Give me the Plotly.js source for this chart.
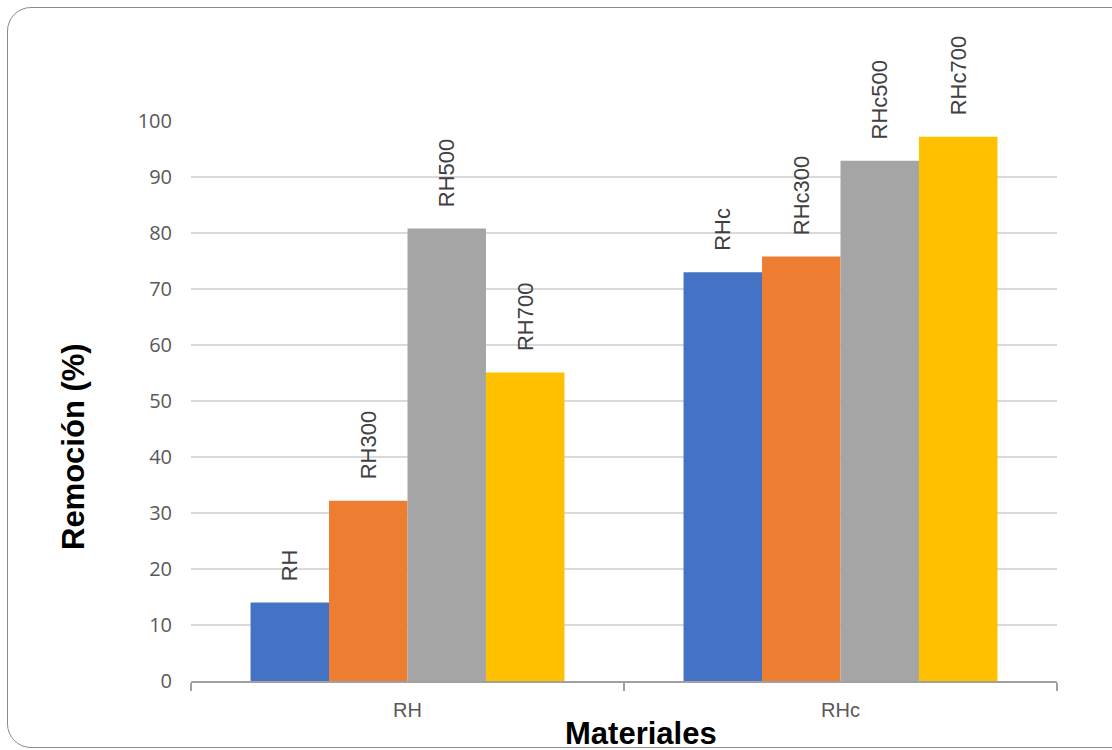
<!DOCTYPE html>
<html>
<head>
<meta charset="utf-8">
<script src="https://cdn.plot.ly/plotly-3.0.1.min.js"></script>
<style>
  html, body { margin: 0; padding: 0; background: #ffffff; overflow: hidden; }
  #frame {
    position: absolute; left: 7px; top: 7px; width: 1130px; height: 741px;
    border: 1.5px solid #8c8c8c; border-radius: 24px; box-sizing: border-box;
  }
  #chart { position: absolute; left: 0; top: 0; width: 1112px; height: 750px; }
</style>
</head>
<body>
<div id="frame"></div>
<div id="chart"></div>
<script>
// Materials (category axis)
const materials = ['RH', 'RHc'];

// Removal percentage for each thermal treatment
const seriesNames = ['Sin tratamiento', '300 °C', '500 °C', '700 °C'];
const removalBase = [14.0, 73.0];
const removal300 = [32.2, 75.8];
const removal500 = [80.8, 92.9];
const removal700 = [55.1, 97.2];

// Bar labels
const labelsBase = ['RH', 'RHc'];
const labels300 = ['RH300', 'RHc300'];
const labels500 = ['RH500', 'RHc500'];
const labels700 = ['RH700', 'RHc700'];

const yTicks = [0, 10, 20, 30, 40, 50, 60, 70, 80, 90, 100];

const colors = ['#4472c4', '#ed7d31', '#a5a5a5', '#ffc000'];
const values = [removalBase, removal300, removal500, removal700];
const labels = [labelsBase, labels300, labels500, labels700];

const traces = values.map((v, i) => ({
  type: 'bar',
  name: seriesNames[i],
  x: materials,
  y: v,
  text: labels[i].map(t => '\u00a0\u00a0\u00a0' + t),
  textposition: 'outside',
  textangle: -90,
  constraintext: 'none',
  cliponaxis: false,
  textfont: { family: 'Liberation Sans, Arial, sans-serif', size: 22, color: '#404040' },
  marker: { color: colors[i], line: { width: 0 } },
  hoverinfo: 'skip'
}));

const layout = {
  width: 1112,
  height: 750,
  margin: { l: 191, r: 55, t: 121, b: 69 },
  paper_bgcolor: 'rgba(0,0,0,0)',
  plot_bgcolor: 'rgba(0,0,0,0)',
  showlegend: false,
  barmode: 'group',
  bargap: 0.275,
  bargroupgap: 0,
  xaxis: {
    type: 'category',
    tickson: 'boundaries',
    ticks: 'outside',
    ticklen: 8,
    tickwidth: 1.5,
    tickcolor: '#a0a0a0',
    showline: true,
    linecolor: '#a0a0a0',
    linewidth: 2,
    showgrid: false,
    tickfont: { family: 'Liberation Sans, Arial, sans-serif', size: 20, color: '#595959' },
    ticklabelstandoff: 10
  },
  yaxis: {
    range: [0, 100],
    tickvals: yTicks,
    ticktext: yTicks.map(String),
    showgrid: true,
    gridcolor: '#d9d9d9',
    gridwidth: 1.5,
    zeroline: false,
    showline: false,
    ticks: '',
    tickfont: { family: 'Open Sans, sans-serif', size: 20, color: '#595959' },
    ticklabelstandoff: 18
  },
  annotations: [
    {
      text: 'Remoción (%)',
      xref: 'paper', yref: 'paper',
      x: -0.135, y: 0.418,
      xanchor: 'center', yanchor: 'middle',
      textangle: -90,
      showarrow: false,
      font: { family: 'Liberation Sans, Arial, sans-serif', size: 31, color: '#000000', weight: 'bold' }
    },
    {
      text: 'Materiales',
      xref: 'paper', yref: 'paper',
      x: 0.52, y: -0.093,
      xanchor: 'center', yanchor: 'middle',
      showarrow: false,
      font: { family: 'Liberation Sans, Arial, sans-serif', size: 31, color: '#000000', weight: 'bold' }
    }
  ]
};

Plotly.newPlot('chart', traces, layout, { displayModeBar: false, staticPlot: true });
</script>
</body>
</html>
